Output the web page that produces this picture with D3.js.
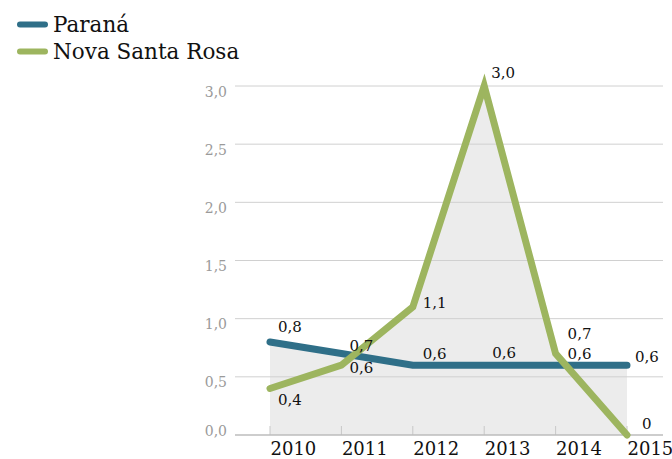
<!DOCTYPE html>
<html>
<head>
<meta charset="utf-8">
<script src="https://cdn.jsdelivr.net/npm/d3@7"></script>
<style>
  html, body { margin: 0; padding: 0; background: #fff; }
</style>
</head>
<body>
<svg id="chart" width="672" height="459"></svg>
<script>
// Yearly values for each series
const years = ["2010", "2011", "2012", "2013", "2014", "2015"];
const parana = [0.8, 0.7, 0.6, 0.6, 0.6, 0.6];
const novaSantaRosa = [0.4, 0.6, 1.1, 3.0, 0.7, 0];
const yTicks = [0, 0.5, 1.0, 1.5, 2.0, 2.5, 3.0];
const seriesNames = ["Paraná", "Nova Santa Rosa"];
const seriesColors = ["#2f6f88", "#9db55f"];

const FONT = "'DejaVu Serif', 'Liberation Serif', serif";

const svg = d3.select("#chart").attr("font-family", FONT);
const x = d3.scalePoint().domain(years).range([270, 627]);
const y = d3.scaleLinear().domain([0, 3]).range([435, 86]);
const gridLeft = 235, gridRight = 663;

const fmt = v => d3.format(".1f")(v).replace(".", ",");

// shaded area under both series
const area = d3.area().x((d, i) => x(years[i])).y0(y(0)).y1(d => y(d));
[novaSantaRosa, parana].forEach(s => {
  svg.append("path").datum(s).attr("d", area).attr("fill", "#ececec");
});

// y tick labels, hanging just below each gridline
const yAxis = d3.axisLeft(y).tickValues(yTicks).tickSize(0).tickPadding(8).tickFormat(fmt);
const gy = svg.append("g").attr("transform", `translate(${gridLeft},0)`).call(yAxis)
  .attr("font-family", FONT);
gy.select(".domain").remove();
gy.selectAll("text").attr("fill", "#9a9a9a").style("font-size", "14px")
  .attr("dy", null).attr("y", d => d === 0 ? 0 : 10);

// horizontal gridlines
svg.append("g").selectAll("line").data(yTicks.slice(1)).join("line")
  .attr("x1", gridLeft).attr("x2", gridRight)
  .attr("y1", d => y(d)).attr("y2", d => y(d))
  .attr("stroke", "#d0d0d0").attr("stroke-width", 1);

// x axis: labels start at each tick
const xAxis = d3.axisBottom(x).tickSize(0).tickPadding(0);
const gx = svg.append("g").attr("transform", `translate(0,${y(0)})`).call(xAxis)
  .attr("font-family", FONT);
gx.select(".domain").remove();
gx.selectAll("text").attr("fill", "#111").attr("dy", null).attr("y", 20)
  .attr("text-anchor", "start").style("font-size", "18px");
svg.append("g").selectAll("line").data(years).join("line")
  .attr("x1", d => x(d)).attr("x2", d => x(d))
  .attr("y1", y(0) - 9).attr("y2", y(0))
  .attr("stroke", "#c8c8c8").attr("stroke-width", 1);
svg.append("line").attr("x1", gridLeft).attr("x2", gridRight)
  .attr("y1", y(0)).attr("y2", y(0)).attr("stroke", "#bdbdbd").attr("stroke-width", 1.5);

// series lines
const line = d3.line().x((d, i) => x(years[i])).y(d => y(d));
[parana, novaSantaRosa].forEach((s, k) => {
  svg.append("path").datum(s).attr("d", line)
    .attr("fill", "none").attr("stroke", seriesColors[k])
    .attr("stroke-width", 7).attr("stroke-linecap", "round").attr("stroke-linejoin", "miter");
});

// value labels: [dx, dy] baseline offsets per point
const paranaOffsets = [[8, -10], [8, -3], [10, -6], [8, -7], [12, -6], [8, -3]];
const novaOffsets = [[8, 17], [8, 8], [10, 1], [7, -8], [12, -15], [15, -6]];
const labelFmt = v => v === 0 ? "0" : fmt(v);
function labels(s, offs) {
  svg.append("g").selectAll("text").data(s).join("text")
    .attr("x", (d, i) => x(years[i]) + offs[i][0])
    .attr("y", (d, i) => y(d) + offs[i][1])
    .attr("fill", "#111").style("font-size", "15px")
    .text(labelFmt);
}
labels(parana, paranaOffsets);
labels(novaSantaRosa, novaOffsets);

// legend
const legend = svg.append("g");
seriesNames.forEach((name, i) => {
  const ly = 24.5 + i * 27;
  legend.append("line").attr("x1", 20).attr("x2", 45).attr("y1", ly).attr("y2", ly)
    .attr("stroke", seriesColors[i]).attr("stroke-width", 6).attr("stroke-linecap", "round");
  legend.append("text").attr("x", 53).attr("y", ly + 7)
    .attr("fill", "#111").style("font-size", "21.5px").text(name);
});
</script>
</body>
</html>
